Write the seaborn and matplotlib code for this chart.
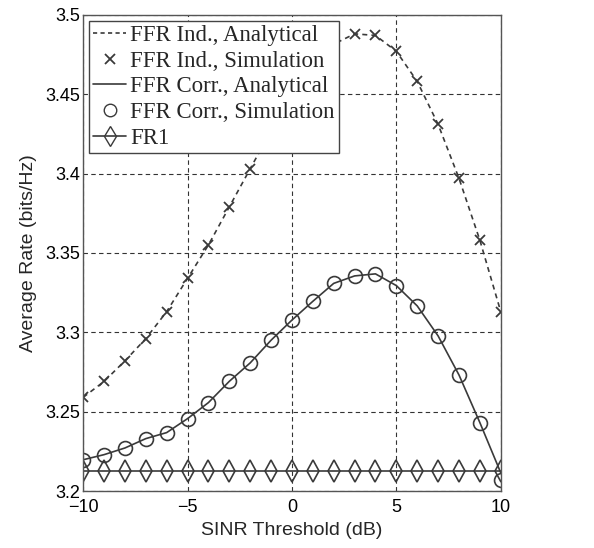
import numpy as np
import pandas as pd
import matplotlib
matplotlib.use("Agg")
import matplotlib.pyplot as plt
from matplotlib.lines import Line2D
import seaborn as sns

sinr_db = [-10, -9, -8, -7, -6, -5, -4, -3, -2, -1, 0, 1, 2, 3, 4, 5, 6, 7, 8, 9, 10]
ffr_ind_sim = [3.259, 3.269, 3.282, 3.296, 3.313, 3.334, 3.355, 3.379, 3.403, 3.427, 3.449,
               3.468, 3.4815, 3.488, 3.487, 3.477, 3.458, 3.431, 3.397, 3.358, 3.313]
ffr_ind_ana = ffr_ind_sim
ffr_corr_sim = [3.2197, 3.2229, 3.2271, 3.233, 3.2368, 3.2456, 3.2557, 3.2691, 3.2807, 3.295, 3.3077,
                3.3195, 3.3308, 3.3355, 3.3368, 3.3294, 3.3166, 3.2977, 3.2731, 3.2431, 3.2069]
ffr_corr_ana = ffr_corr_sim[:-1] + [3.2115]
fr1 = [3.2125] * 21

labels = ["FFR Ind., Analytical", "FFR Ind., Simulation", "FFR Corr., Analytical",
          "FFR Corr., Simulation", "FR1"]

sns.set_style("white")
plt.rcParams["font.family"] = ["Liberation Sans", "DejaVu Sans"]

fig = plt.figure(figsize=(5.94, 5.48), dpi=100)
ax = fig.add_axes([0.14, 0.104, 0.703, 0.869])

lc = "#3a3a3a"
df = pd.DataFrame({"x": sinr_db, "ind_a": ffr_ind_ana, "ind_s": ffr_ind_sim,
                   "corr_a": ffr_corr_ana, "corr_s": ffr_corr_sim, "fr1": fr1})

sns.lineplot(data=df, x="x", y="ind_a", ax=ax, color=lc, linestyle=(0, (3, 2.5)), linewidth=1.2)
sns.lineplot(data=df, x="x", y="corr_a", ax=ax, color=lc, linewidth=1.2)
sns.lineplot(data=df, x="x", y="fr1", ax=ax, color=lc, linewidth=1.2)
ax.plot(df["x"], df["ind_s"], linestyle="none", marker="x", markersize=7, color=lc, markeredgewidth=1.3)
ax.plot(df["x"], df["corr_s"], linestyle="none", marker="o", markersize=10, color=lc,
        markerfacecolor="none", markeredgewidth=1.2)
ax.plot(df["x"], df["fr1"], linestyle="none", marker="d", markersize=11, color=lc,
        markerfacecolor="none", markeredgewidth=1.2)

ax.set_xlim(-10, 10)
ax.set_ylim(3.2, 3.5)
ax.set_xticks([-10, -5, 0, 5, 10])
ax.set_xticklabels(["\u221210", "\u22125", "0", "5", "10"])
yt = [3.2, 3.25, 3.3, 3.35, 3.4, 3.45, 3.5]
ax.set_yticks(yt)
ax.set_yticklabels(["3.2", "3.25", "3.3", "3.35", "3.4", "3.45", "3.5"])
ax.tick_params(direction="in", length=4, labelsize=13, colors="black")
ax.tick_params(axis="x", pad=6)
ax.tick_params(axis="y", pad=2)
ax.grid(True, color="#333333", linestyle=(0, (4, 3)), linewidth=0.8)
for s in ax.spines.values():
    s.set_color("#555555")
    s.set_linewidth(1.0)
ax.set_xlabel("SINR Threshold (dB)", fontsize=14, labelpad=4)
ax.set_ylabel("Average Rate (bits/Hz)", fontsize=14, labelpad=6)

handles = [
    Line2D([], [], color=lc, linestyle=(0, (2.5, 2)), linewidth=1.2),
    Line2D([], [], color=lc, linestyle="none", marker="x", markersize=7, markeredgewidth=1.3),
    Line2D([], [], color=lc, linewidth=1.2),
    Line2D([], [], color=lc, linestyle="none", marker="o", markersize=9, markerfacecolor="none"),
    Line2D([], [], color=lc, linewidth=1.2, marker="d", markersize=10, markerfacecolor="none"),
]
leg = ax.legend(handles, labels, loc="upper left", bbox_to_anchor=(0.0, 1.0),
                prop={"family": ["Liberation Serif", "DejaVu Serif"], "size": 16.5},
                fancybox=False, framealpha=1, edgecolor="#444444", borderaxespad=0.25,
                handlelength=1.4, handletextpad=0.2, labelspacing=0.2, borderpad=0.2)
leg.get_frame().set_linewidth(1.0)

fig.savefig("out.png", dpi=100)
